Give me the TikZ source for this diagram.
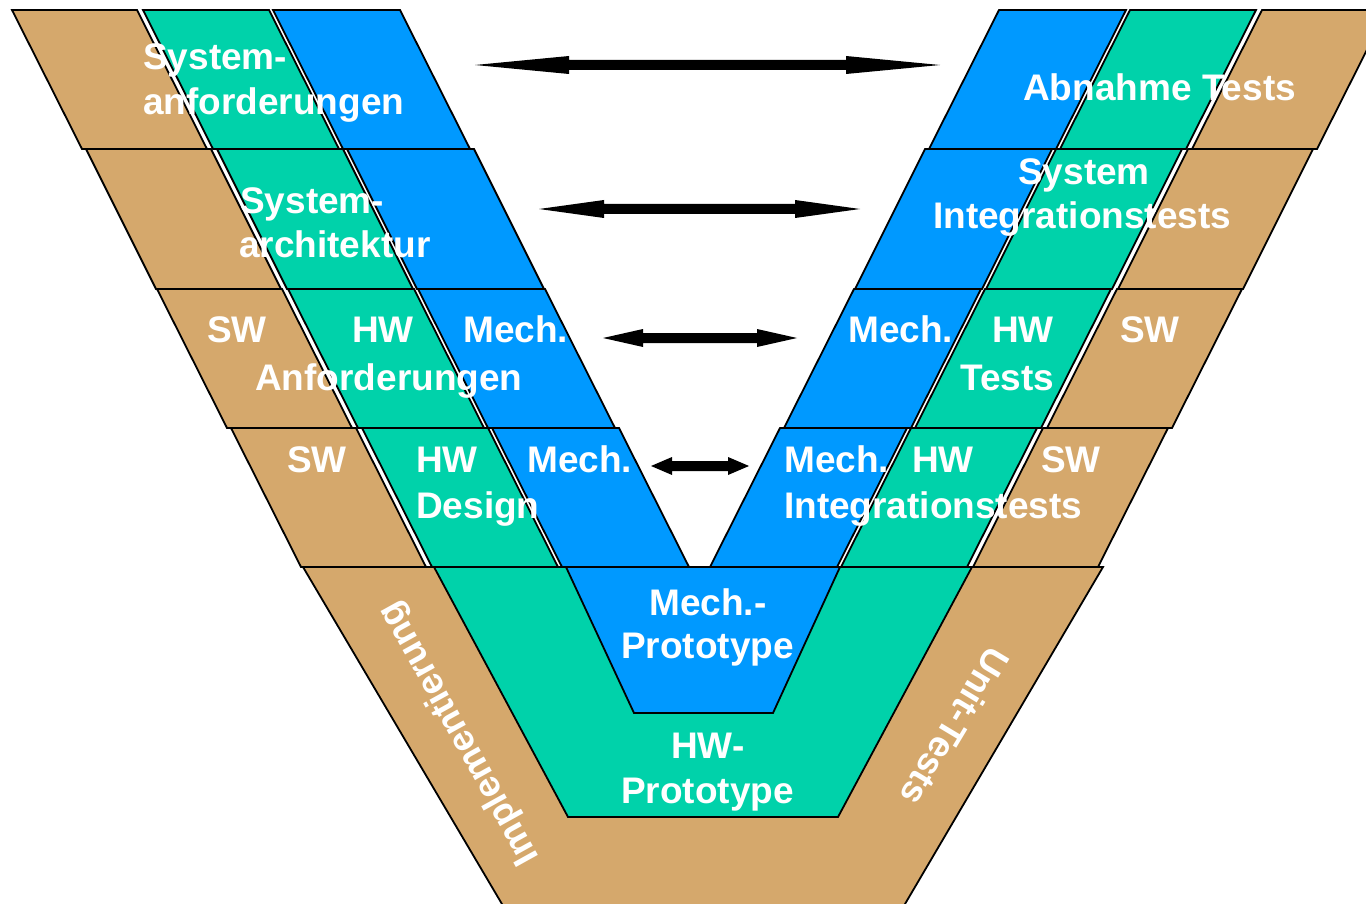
\documentclass[tikz,border=0pt]{standalone}
\usepackage{fontspec}
\setmainfont{Liberation Sans}
\definecolor{vtan}{HTML}{D5A86C}
\definecolor{vgreen}{HTML}{00D2AA}
\definecolor{vblue}{HTML}{0099FF}
\newcommand\vdblarrow[4]{% x1, x2, y, head length
  \fill[black] (#1,#3) -- ({#1+#4},{#3-9}) -- ({#1+#4},{#3-5}) -- ({#2-#4},{#3-5}) -- ({#2-#4},{#3-9}) -- (#2,#3)
     -- ({#2-#4},{#3+9}) -- ({#2-#4},{#3+5}) -- ({#1+#4},{#3+5}) -- ({#1+#4},{#3+9}) -- cycle;}
\begin{document}
\begin{tikzpicture}[x=1pt,y=-1pt,
  box/.style={draw=black, line width=1.8pt, line join=miter},
  lbl/.style={text=white, font=\fontsize{37}{44}\selectfont\bfseries, inner sep=0pt, anchor=base west},
  rot/.style={text=white, font=\fontsize{36.5}{42}\selectfont\bfseries, inner sep=0pt, anchor=center}]
\useasboundingbox (0,0) rectangle (1366,904);
\begin{scope}
\clip (0,0) rectangle (1366,904);
% upper rows, left and right branch
\foreach \L/\yt/\yb in {12/10/149, 86/149/289, 157/289/428, 231/428/567} {
  \foreach \a/\b/\c in {0/125/vtan, 131/257/vgreen, 261/388/vblue} {
    \draw[box, fill=\c] ({\L+\a},\yt) -- ({\L+\b},\yt) -- ({\L+\b+70},\yb) -- ({\L+\a+70},\yb) -- cycle;
    \draw[box, fill=\c] ({1399-\L-\a},\yt) -- ({1399-\L-\b},\yt) -- ({1329-\L-\b},\yb) -- ({1329-\L-\a},\yb) -- cycle;
  }
}
% bottom part
\draw[box, fill=vtan] (303,567) -- (1103,567) -- (895,921) -- (512,921) -- cycle;
\draw[box, fill=vgreen] (434,567) -- (972,567) -- (838,817) -- (568,817) -- cycle;
\draw[box, fill=vblue] (566,567) -- (840,567) -- (773,713) -- (634,713) -- cycle;
\end{scope}
% arrows
\vdblarrow{475}{940}{65}{94}
\vdblarrow{539}{860}{209}{65}
\vdblarrow{603}{797}{338}{40}
\vdblarrow{651}{749}{466}{21}
% left labels
\node[lbl] (l1a) at (143,70) {System-};
\node[lbl] (l1b) at (143,115) {anforderungen};
\node[lbl] (l2a) at (240,214) {System-};
\node[lbl] (l2b) at (239,258) {architektur};
\node[lbl] (l3a) at (207,342) {SW};
\node[lbl] (l3b) at (352,342) {HW};
\node[lbl] (l3c) at (463,342) {Mech.};
\node[lbl] (l3d) at (255,390) {Anforderungen};
\node[lbl] (l4a) at (287,472) {SW};
\node[lbl] (l4b) at (416,472) {HW};
\node[lbl] (l4c) at (527,472) {Mech.};
\node[lbl] (l4d) at (416,518) {Design};
% right labels
\node[lbl] (r1a) at (1023,101) {Abnahme Tests};
\node[lbl] (r2a) at (1018,185) {System};
\node[lbl] (r2b) at (933,229) {Integrationstests};
\node[lbl] (r3a) at (848,342) {Mech.};
\node[lbl] (r3b) at (992,342) {HW};
\node[lbl] (r3c) at (960,390) {Tests};
\node[lbl] (r3d) at (1120,342) {SW};
\node[lbl] (r4a) at (784,472) {Mech.};
\node[lbl] (r4b) at (912,472) {HW};
\node[lbl] (r4c) at (1041,472) {SW};
\node[lbl] (r4d) at (784,518) {Integrationstests};
% bottom labels
\node[lbl] (b1a) at (649,615) {Mech.-};
\node[lbl] (b1b) at (621,658) {Prototype};
\node[lbl] (b2a) at (671,758) {HW-};
\node[lbl] (b2b) at (621,803) {Prototype};
\node[rot, rotate=119] (impl) at (460,733) {Implementierung};
\node[rot, rotate=239] (unit) at (955,727) {Unit-Tests};
\end{tikzpicture}
\end{document}
